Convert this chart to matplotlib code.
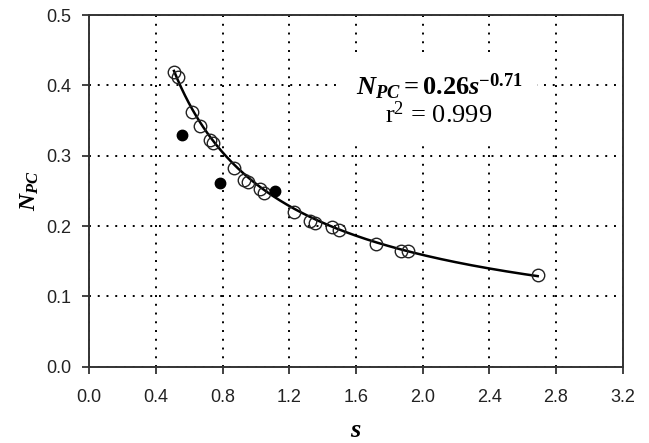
import numpy as np
import matplotlib.pyplot as plt

# open circles
s_open = [0.508, 0.534, 0.614, 0.664, 0.722, 0.740, 0.867, 0.929, 0.954,
          1.024, 1.047, 1.229, 1.324, 1.354, 1.454, 1.499, 1.720, 1.870,
          1.910, 2.690]
npc_open = [0.419, 0.412, 0.362, 0.342, 0.322, 0.318, 0.282, 0.266, 0.263,
            0.253, 0.247, 0.220, 0.207, 0.205, 0.198, 0.195, 0.174, 0.165,
            0.165, 0.130]

# filled points
s_filled = [0.554, 0.786, 1.116]
npc_filled = [0.330, 0.261, 0.250]

# fitted power law shown on the chart: N_PC = a * s^b
fit_a = 0.26
fit_b = -0.71

plt.rcParams['mathtext.fontset'] = 'custom'
plt.rcParams['mathtext.rm'] = 'Liberation Serif'
plt.rcParams['mathtext.it'] = 'Liberation Serif:italic'
plt.rcParams['mathtext.bf'] = 'Liberation Serif:bold'
plt.rcParams['mathtext.bfit'] = 'Liberation Serif:bold:italic'

fig = plt.figure(figsize=(6.49, 4.43), dpi=100)
ax = fig.add_axes([0.1376, 0.1722, 0.8219, 0.7939])

s_fit = np.linspace(min(s_open), max(s_open), 200)
ax.plot(s_fit, fit_a * s_fit ** fit_b, color='black', lw=1.8, zorder=3)
ax.plot(s_open, npc_open, linestyle='none', marker='o', ms=9,
        mfc='none', mec='#222222', mew=1.0, zorder=4)
ax.plot(s_filled, npc_filled, linestyle='none', marker='o', ms=7.5,
        mfc='black', mec='black', zorder=4)

ax.set_xlim(0, 3.2)
ax.set_ylim(0, 0.5)
ax.set_xticks(np.arange(0, 3.21, 0.4))
ax.set_yticks(np.arange(0, 0.51, 0.1))
ax.set_xticklabels([f'{v:.1f}' for v in np.arange(0, 3.21, 0.4)])
ax.set_yticklabels([f'{v:.1f}' for v in np.arange(0, 0.51, 0.1)])
for lab in ax.get_xticklabels() + ax.get_yticklabels():
    lab.set_fontfamily('Liberation Sans')
    lab.set_fontsize(13)
    lab.set_color('#222222')

ax.grid(True, color='black', linestyle=(0, (1, 3.5)), lw=1.4)
ax.tick_params(direction='out', length=5, width=1.3, color='#333333')
ax.tick_params(axis='x', pad=11)
ax.tick_params(axis='y', pad=8)
for sp in ax.spines.values():
    sp.set_linewidth(1.4)
    sp.set_color('#333333')

ax.set_xlabel(r'$\mathbfit{s}$', fontsize=19, labelpad=8)
ax.set_ylabel(r'$\mathbfit{N}_{\mathbfit{PC}}$', fontsize=17, labelpad=4)

eq = (r'$\mathbfit{N}_{\mathbfit{PC}}\mathbf{=0.26}\mathbfit{s}^{\mathbf{-0.71}}$'
      '\n' r'r$^2$ = 0.999')
ax.text(2.098, 0.379, eq, fontsize=19, family='Liberation Serif',
        ha='center', va='center', multialignment='center', linespacing=0.95,
        bbox=dict(boxstyle='square,pad=0.55', facecolor='white', edgecolor='none'),
        zorder=5)

plt.savefig('out.png', dpi=100)
